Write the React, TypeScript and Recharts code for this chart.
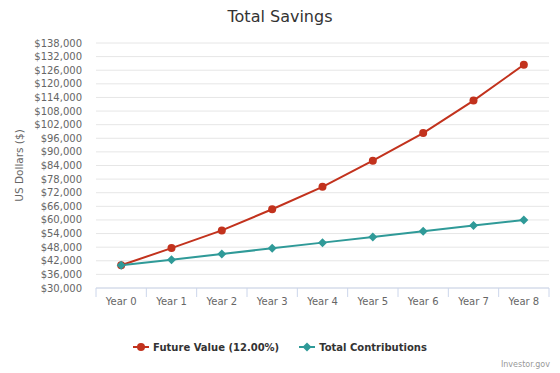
import { LineChart, Line, XAxis, YAxis, CartesianGrid, Legend } from 'recharts';

const years = ['Year 0', 'Year 1', 'Year 2', 'Year 3', 'Year 4', 'Year 5', 'Year 6', 'Year 7', 'Year 8'];
const futureValue = [40000, 47600, 55400, 64700, 74600, 86100, 98300, 112600, 128400];
const contributions = [40000, 42500, 45000, 47500, 50000, 52500, 55000, 57500, 60000];
const yTicks = [
  30000, 36000, 42000, 48000, 54000, 60000, 66000, 72000, 78000, 84000,
  90000, 96000, 102000, 108000, 114000, 120000, 126000, 132000, 138000,
];

const RED = '#c2321d';
const TEAL = '#2f9a98';
const FONT = '"DejaVu Sans", sans-serif';

const data = years.map((year, i) => ({
  year,
  future: futureValue[i],
  contrib: contributions[i],
}));

const money = (v: number) => '$' + v.toLocaleString('en-US');

function YearTick(props: any) {
  const { x, y, payload, index } = props;
  const half = payload?.offset || 25;
  return (
    <g>
      <line x1={x - half} x2={x - half} y1={y} y2={y + 9} stroke="#ccd6eb" />
      {index === years.length - 1 && (
        <line x1={x + half} x2={x + half} y1={y} y2={y + 9} stroke="#ccd6eb" />
      )}
      <text x={x} y={y + 17} textAnchor="middle" fill="#666" fontSize={10} fontFamily={FONT}>
        {payload.value}
      </text>
    </g>
  );
}

function Diamond(props: any) {
  const { cx, cy, index } = props;
  if (cx == null || cy == null) return <g key={index} />;
  return (
    <path
      key={index}
      d={`M${cx},${cy - 4.5}L${cx + 4.5},${cy}L${cx},${cy + 4.5}L${cx - 4.5},${cy}Z`}
      fill={TEAL}
    />
  );
}

function AxisTitle(props: any) {
  const { viewBox } = props;
  const x = viewBox.x + 19;
  const y = viewBox.y + viewBox.height / 2;
  return (
    <text
      x={x}
      y={y}
      transform={`rotate(-90 ${x} ${y})`}
      textAnchor="middle"
      dominantBaseline="central"
      fill="#666"
      fontSize={10.5}
      fontFamily={FONT}
    >
      US Dollars ($)
    </text>
  );
}

function LegendContent(props: any) {
  const { payload = [] } = props;
  return (
    <div style={{ display: 'flex', justifyContent: 'center', gap: 20, fontFamily: FONT }}>
      {payload.map((entry: any) => (
        <div key={entry.value} style={{ display: 'flex', alignItems: 'center' }}>
          <svg width={16} height={12} style={{ marginRight: 4 }}>
            <line x1={0} x2={16} y1={6} y2={6} stroke={entry.color} strokeWidth={2} />
            {entry.dataKey === 'contrib' ? (
              <path d="M8,1.5L12.5,6L8,10.5L3.5,6Z" fill={entry.color} />
            ) : (
              <circle cx={8} cy={6} r={4} fill={entry.color} />
            )}
          </svg>
          <span style={{ fontSize: 10, fontWeight: 'bold', color: '#333' }}>{entry.value}</span>
        </div>
      ))}
    </div>
  );
}

export default function App() {
  return (
    <div style={{ position: 'absolute', left: 0, top: 0, width: 560, height: 373, background: '#fff' }}>
      <div
        style={{
          position: 'absolute',
          top: 7,
          left: 0,
          width: 560,
          textAlign: 'center',
          fontFamily: FONT,
          fontSize: 16,
          color: '#333',
          lineHeight: '20px',
        }}
      >
        Total Savings
      </div>
      <LineChart width={560} height={373} data={data} margin={{ top: 43, right: 11, bottom: 55, left: 0 }}>
        <CartesianGrid vertical={false} stroke="#e6e6e6" />
        <XAxis
          dataKey="year"
          scale="band"
          height={30}
          axisLine={{ stroke: '#ccd6eb' }}
          tickLine={false}
          tickSize={0}
          tickMargin={0}
          tick={<YearTick />}
          interval={0}
        />
        <YAxis
          width={96}
          domain={[30000, 138000]}
          ticks={yTicks}
          interval={0}
          axisLine={false}
          tickLine={false}
          tickSize={0}
          tickMargin={14}
          tickFormatter={money}
          tick={{ fill: '#666', fontSize: 10, fontFamily: FONT }}
          label={<AxisTitle />}
        />
        <Legend
          layout="horizontal"
          align="center"
          verticalAlign="middle"
          content={<LegendContent />}
          wrapperStyle={{ top: 341, bottom: 'auto', left: 0, width: 560 }}
        />
        <Line
          dataKey="future"
          name="Future Value (12.00%)"
          stroke={RED}
          strokeWidth={2}
          dot={{ r: 4, fill: RED, stroke: 'none' }}
          activeDot={false}
          isAnimationActive={false}
        />
        <Line
          dataKey="contrib"
          name="Total Contributions"
          stroke={TEAL}
          strokeWidth={2}
          dot={<Diamond />}
          activeDot={false}
          isAnimationActive={false}
        />
      </LineChart>
      <div
        style={{
          position: 'absolute',
          right: 10,
          top: 360,
          fontFamily: FONT,
          fontSize: 8,
          color: '#999',
        }}
      >
        Investor.gov
      </div>
    </div>
  );
}
